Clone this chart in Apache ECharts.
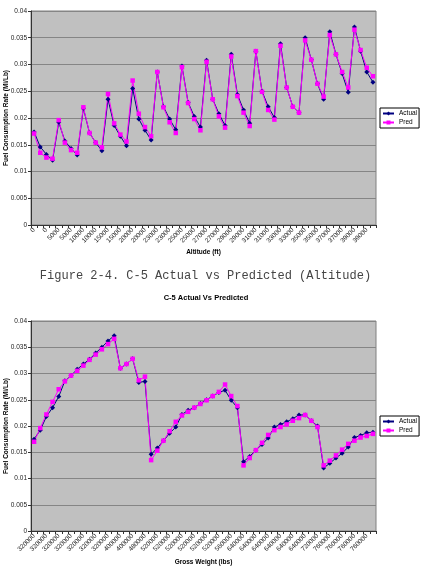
<!DOCTYPE html>
<html>
<head>
<meta charset="utf-8">
<script src="https://cdn.jsdelivr.net/npm/echarts@6/dist/echarts.min.js"></script>
<style>
html,body{margin:0;padding:0;background:#fff;}
#chart{width:427px;height:566px;}
</style>
</head>
<body>
<div id="chart"></div>
<script>
// Chart 1: Altitude categories
var altCats = [
 '0','0','0','0','5000','5000','5000','5000','10000','10000','10000','10000',
 '15000','15000','15000','15000','20000','20000','20000','20000','23000','23000','23000','23000',
 '25000','25000','25000','25000','27000','27000','27000','27000','29000','29000','29000','29000',
 '31000','31000','31000','31000','33000','33000','33000','33000','35000','35000','35000','35000',
 '37000','37000','37000','37000','39000','39000','39000','39000'
];
var altActual = [
 0.0174,0.0146,0.0132,0.0121, 0.0192,0.0157,0.0143,0.0131, 0.0218,0.0172,0.0154,0.0139,
 0.0235,0.0186,0.0166,0.0148, 0.0255,0.0198,0.0177,0.0159, 0.0286,0.0221,0.0198,0.0178,
 0.0297,0.0229,0.0203,0.0183, 0.0308,0.0235,0.0208,0.0186, 0.0319,0.0244,0.0215,0.0190,
 0.0325,0.0250,0.0221,0.0201, 0.0339,0.0257,0.0221,0.0210, 0.0350,0.0309,0.0264,0.0235,
 0.0361,0.0319,0.0283,0.0248, 0.0370,0.0325,0.0286,0.0267
];
var altPred = [
 0.0171,0.0135,0.0126,0.0124, 0.0196,0.0154,0.0140,0.0135, 0.0220,0.0172,0.0154,0.0145,
 0.0245,0.0190,0.0169,0.0156, 0.0270,0.0208,0.0183,0.0166, 0.0286,0.0220,0.0192,0.0172,
 0.0295,0.0228,0.0198,0.0177, 0.0305,0.0235,0.0203,0.0182, 0.0315,0.0241,0.0210,0.0185,
 0.0325,0.0249,0.0215,0.0197, 0.0335,0.0257,0.0221,0.0210, 0.0345,0.0309,0.0264,0.0240,
 0.0355,0.0319,0.0286,0.0257, 0.0365,0.0327,0.0294,0.0278
];

// Chart 2: Gross weight categories
var gwCats = [
 '320000','320000','320000','320000','320000','320000','320000','320000','320000','320000','320000','320000','320000','320000',
 '400000','400000','400000',
 '480000','480000',
 '520000','520000','520000','520000','520000','520000','520000','520000','520000','520000','520000','520000',
 '560000','560000','560000',
 '640000','640000','640000','640000','640000','640000','640000','640000','640000','640000','640000','640000',
 '720000',
 '760000','760000','760000','760000','760000','760000','760000','760000','760000'
];
var gwActual = [
 0.0175,0.0192,0.0218,0.0235,0.0256,0.0286,0.0296,0.0308,0.0318,0.0327,0.0339,0.0350,0.0362,0.0372,
 0.0310,0.0318,0.0328,
 0.0283,0.0285,
 0.0146,0.0158,0.0172,0.0186,0.0198,0.0222,0.0230,0.0235,0.0243,0.0250,0.0257,0.0264,
 0.0268,0.0249,0.0235,
 0.0132,0.0142,0.0154,0.0165,0.0177,0.0198,0.0203,0.0208,0.0214,0.0221,0.0221,0.0210,
 0.0200,
 0.0120,0.0129,0.0139,0.0148,0.0160,0.0178,0.0182,0.0187,0.0188
];
var gwPred = [
 0.0170,0.0196,0.0222,0.0246,0.0270,0.0285,0.0296,0.0305,0.0315,0.0326,0.0336,0.0346,0.0356,0.0366,
 0.0310,0.0318,0.0328,
 0.0287,0.0294,
 0.0135,0.0153,0.0172,0.0190,0.0208,0.0220,0.0227,0.0235,0.0242,0.0249,0.0257,0.0265,
 0.0279,0.0257,0.0238,
 0.0125,0.0139,0.0154,0.0168,0.0183,0.0192,0.0198,0.0203,0.0210,0.0215,0.0221,0.0210,
 0.0198,
 0.0125,0.0134,0.0144,0.0155,0.0166,0.0172,0.0178,0.0181,0.0185
];

var yMin = 0, yMax = 0.04, yStep = 0.005;
var seriesNames = ['Actual', 'Pred'];

var FONT = 'Liberation Sans, Arial, sans-serif';
var axisCol = '#333';

function xAxisCfg(idx, cats, name, gap) {
  return {
    type: 'category', gridIndex: idx, data: cats, boundaryGap: true,
    axisLine: {show: true, lineStyle: {color: axisCol, width: 1}},
    axisTick: {show: true, interval: 0, length: 3, inside: false, lineStyle: {color: axisCol}},
    axisLabel: {interval: 1, rotate: 45, fontSize: 6.5, color: '#222', margin: 4, fontFamily: FONT},
    splitLine: {show: false},
    name: name, nameLocation: 'middle', nameGap: gap, nameMoveOverlap: false,
    nameTextStyle: {fontWeight: 'bold', fontSize: 6.5, color: '#000', fontFamily: FONT}
  };
}
function yAxisCfg(idx) {
  return {
    type: 'value', gridIndex: idx, min: yMin, max: yMax, interval: yStep,
    axisLine: {show: true, lineStyle: {color: axisCol, width: 1}},
    axisTick: {show: true, length: 3, lineStyle: {color: axisCol}},
    axisLabel: {fontSize: 6.5, color: '#222', margin: 4, fontFamily: FONT},
    splitLine: {show: true, lineStyle: {color: '#858585', width: 1}},
    name: 'Fuel Consumption Rate (Mi/Lb)', nameLocation: 'middle', nameGap: 21, nameRotate: 90,
    nameMoveOverlap: false,
    nameTextStyle: {fontWeight: 'bold', fontSize: 6.5, color: '#000', fontFamily: FONT}
  };
}
function lineSeries(name, data, idx) {
  var isA = name === 'Actual';
  return {
    name: name, type: 'line', xAxisIndex: idx, yAxisIndex: idx, data: data,
    symbol: isA ? 'diamond' : 'rect', symbolSize: isA ? 5 : 4.5,
    showSymbol: true, showAllSymbol: true,
    lineStyle: {width: 1, color: isA ? '#000080' : '#ff00ff'},
    itemStyle: {color: isA ? '#000080' : '#ff00ff'},
    emphasis: {disabled: true}
  };
}
function legendCfg(top) {
  return {
    data: seriesNames, orient: 'vertical', left: 380, top: top,
    backgroundColor: '#fff', borderColor: '#000', borderWidth: 1, borderRadius: 0,
    padding: [2, 2, 2, 2], itemWidth: 11, itemHeight: 5, itemGap: 2,
    textStyle: {fontSize: 6.5, color: '#000', fontFamily: FONT}
  };
}

var chart = echarts.init(document.getElementById('chart'), null, {renderer: 'canvas'});
chart.setOption({
  animation: false,
  backgroundColor: '#fff',
  grid: [
    {left: 31, top: 11, width: 345, height: 214, outerBoundsMode: 'none', containLabel: false, show: true, backgroundColor: '#c0c0c0', borderColor: '#808080', borderWidth: 1},
    {left: 31, top: 321, width: 345, height: 210, outerBoundsMode: 'none', containLabel: false, show: true, backgroundColor: '#c0c0c0', borderColor: '#808080', borderWidth: 1}
  ],
  xAxis: [xAxisCfg(0, altCats, 'Altitude (ft)', 24), xAxisCfg(1, gwCats, 'Gross Weight (lbs)', 28)],
  yAxis: [yAxisCfg(0), yAxisCfg(1)],
  legend: [legendCfg(108), legendCfg(416)],
  graphic: [
    {type: 'text', x: 205.5, y: 276, style: {text: 'Figure 2-4. C-5 Actual vs Predicted (Altitude)', fontFamily: 'Liberation Mono, Courier New, monospace', fontSize: 12, fill: '#444', textAlign: 'center', textVerticalAlign: 'middle'}},
    {type: 'text', x: 206, y: 298, style: {text: 'C-5 Actual Vs Predicted', fontFamily: FONT, fontWeight: 'bold', fontSize: 7.5, fill: '#000', textAlign: 'center', textVerticalAlign: 'middle'}}
  ],
  series: [
    lineSeries('Actual', altActual, 0),
    lineSeries('Pred', altPred, 0),
    lineSeries('Actual', gwActual, 1),
    lineSeries('Pred', gwPred, 1)
  ]
});
</script>
</body>
</html>
